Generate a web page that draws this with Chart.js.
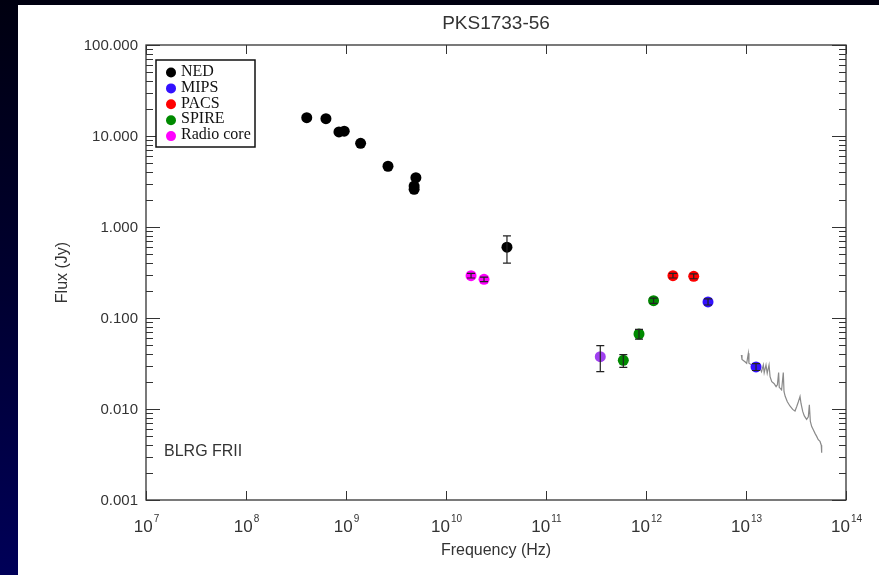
<!DOCTYPE html>
<html lang="en">
<head>
<meta charset="UTF-8" />
<title>PKS1733-56</title>
<script src="https://cdn.jsdelivr.net/npm/chart.js@4.4.1/dist/chart.umd.min.js"></script>
<style>
  html, body { margin: 0; padding: 0; }
  body {
    width: 879px; height: 575px; overflow: hidden;
    background: linear-gradient(180deg, #000010 0%, #000030 50%, #000058 100%);
  }
  #wrap { position: absolute; left: 18px; top: 5px; width: 861px; height: 570px; background: #fff; }
</style>
</head>
<body>
<div id="wrap"><canvas id="canvas" width="861" height="570"></canvas></div>
<script>
// NED photometry (Hz, Jy)
const nedFreq = [4.05e8, 6.3e8, 8.5e8, 9.6e8, 1.4e9, 2.63e9, 5.0e9, 4.8e9, 4.8e9, 4.07e10];
const nedFlux = [15.9, 15.5, 11.1, 11.3, 8.3, 4.65, 3.48, 2.82, 2.6, 0.60];
const nedLo   = [null, null, null, null, null, null, null, null, null, 0.40];
const nedHi   = [null, null, null, null, null, null, null, null, null, 0.80];

const mipsFreq = [4.17e12, 1.26e13];
const mipsFlux = [0.150, 0.029];
const mipsLo   = [0.139, 0.0265];
const mipsHi   = [0.162, 0.0315];

const pacsFreq = [1.86e12, 3.0e12];
const pacsFlux = [0.292, 0.287];
const pacsLo   = [0.275, 0.270];
const pacsHi   = [0.310, 0.305];

const spireFreq = [5.93e11, 8.51e11, 1.19e12];
const spireFlux = [0.0343, 0.0667, 0.155];
const spireLo   = [0.0287, 0.0587, 0.145];
const spireHi   = [0.0395, 0.075, 0.165];

const coreFreq = [1.78e10, 2.4e10];
const coreFlux = [0.292, 0.266];
const coreLo   = [0.275, 0.251];
const coreHi   = [0.310, 0.282];

// extra point (overlapping MIPS / radio core colour)
const extraFreq = [3.49e11];
const extraFlux = [0.0376];
const extraLo   = [0.0257];
const extraHi   = [0.0497];

// IRS spectrum
const irsFreq = [8.98e12, 9.12e12, 9.77e12, 1.016e13, 1.055e13, 1.07e13, 1.14e13, 1.26e13, 1.38e13, 1.43e13,
  1.49e13, 1.52e13, 1.585e13, 1.63e13, 1.70e13, 1.74e13, 1.81e13, 1.905e13, 2.0e13, 2.06e13,
  2.12e13, 2.15e13, 2.27e13, 2.36e13, 2.40e13, 2.47e13, 2.59e13, 2.75e13, 2.93e13, 3.09e13,
  3.21e13, 3.34e13, 3.47e13, 3.55e13, 3.69e13, 3.83e13, 4.04e13, 4.20e13, 4.30e13, 4.40e13,
  4.54e13, 4.71e13, 4.90e13, 5.09e13, 5.28e13, 5.50e13, 5.66e13, 5.71e13];
const irsFlux = [0.0392, 0.0351, 0.0331, 0.0318, 0.0409, 0.0318, 0.0305, 0.0297, 0.0280, 0.0257,
  0.0305, 0.0251, 0.0305, 0.0247, 0.0305, 0.0227, 0.0200, 0.0191, 0.0176, 0.0184,
  0.0251, 0.0173, 0.0162, 0.0251, 0.0155, 0.0137, 0.0120, 0.0108, 0.0099, 0.0095,
  0.0106, 0.0120, 0.0137, 0.0115, 0.0094, 0.0084, 0.0077, 0.0082, 0.0111, 0.0073,
  0.0064, 0.0059, 0.0054, 0.0050, 0.0046, 0.0044, 0.0040, 0.0033];

const xTicks = [1e7, 1e8, 1e9, 1e10, 1e11, 1e12, 1e13, 1e14];
const xExps  = ['7', '8', '9', '10', '11', '12', '13', '14'];
const yTicks = [0.001, 0.01, 0.1, 1, 10, 100];
const yLabels = ['0.001', '0.010', '0.100', '1.000', '10.000', '100.000'];

const legendNames  = ['NED', 'MIPS', 'PACS', 'SPIRE', 'Radio core'];
const legendColors = ['#000000', '#3311ff', '#ff0000', '#008a00', '#ff00ff'];

function pts(xs, ys) {
  return xs.map(function (x, i) { return { x: x, y: ys[i] }; });
}
function dots(label, xs, ys, lo, hi, color) {
  return { label: label, data: pts(xs, ys), errLo: lo, errHi: hi,
    backgroundColor: color, borderWidth: 0, pointRadius: 5.5, pointHoverRadius: 5.5, order: 0 };
}

const sans = '"Liberation Sans", Arial, Helvetica, sans-serif';

const framePlugin = {
  id: 'frame',
  afterDatasetsDraw(chart) {
    const ctx = chart.ctx, a = chart.chartArea;
    const xs = chart.scales.x, ys = chart.scales.y;
    ctx.save();
    // error bars
    ctx.strokeStyle = '#222';
    ctx.lineWidth = 1.2;
    chart.data.datasets.forEach(function (ds) {
      if (!ds.errLo) return;
      ds.data.forEach(function (p, i) {
        if (ds.errLo[i] == null) return;
        const px = xs.getPixelForValue(p.x);
        const y1 = ys.getPixelForValue(ds.errLo[i]);
        const y2 = ys.getPixelForValue(ds.errHi[i]);
        ctx.beginPath();
        ctx.moveTo(px, y1); ctx.lineTo(px, y2);
        ctx.moveTo(px - 4, y1); ctx.lineTo(px + 4, y1);
        ctx.moveTo(px - 4, y2); ctx.lineTo(px + 4, y2);
        ctx.stroke();
      });
    });
    // box
    ctx.strokeStyle = '#333';
    ctx.lineWidth = 1.3;
    ctx.strokeRect(a.left, a.top, a.right - a.left, a.bottom - a.top);
    // y ticks both sides
    ctx.lineWidth = 1;
    ctx.beginPath();
    for (let e = -3; e <= 2; e++) {
      for (let m = 1; m <= 9; m++) {
        const v = m * Math.pow(10, e);
        if (v > 100.0001) break;
        const py = Math.round(ys.getPixelForValue(v)) + 0.5;
        const len = m === 1 ? 14 : 7;
        ctx.moveTo(a.left, py); ctx.lineTo(a.left + len, py);
        ctx.moveTo(a.right, py); ctx.lineTo(a.right - len, py);
      }
    }
    // x ticks top and bottom
    xTicks.forEach(function (v) {
      const px = Math.round(xs.getPixelForValue(v)) + 0.5;
      ctx.moveTo(px, a.bottom); ctx.lineTo(px, a.bottom - 9);
      ctx.moveTo(px, a.top); ctx.lineTo(px, a.top + 9);
    });
    ctx.stroke();

    // y tick labels
    ctx.fillStyle = '#333';
    ctx.font = '15px ' + sans;
    ctx.textAlign = 'right';
    ctx.textBaseline = 'middle';
    yTicks.forEach(function (v, i) {
      ctx.fillText(yLabels[i], a.left - 8, ys.getPixelForValue(v) + 1);
    });
    // x tick labels with superscript
    xTicks.forEach(function (v, i) {
      const px = xs.getPixelForValue(v);
      ctx.font = '17px ' + sans;
      const w1 = ctx.measureText('10').width;
      ctx.font = '10px ' + sans;
      const w2 = ctx.measureText(xExps[i]).width;
      const x0 = px - (w1 + w2) / 2;
      ctx.textAlign = 'left';
      ctx.textBaseline = 'alphabetic';
      ctx.font = '17px ' + sans;
      ctx.fillText('10', x0, a.bottom + 32);
      ctx.font = '10px ' + sans;
      ctx.fillText(xExps[i], x0 + w1 + 1, a.bottom + 22);
    });

    // titles
    ctx.textAlign = 'center';
    ctx.textBaseline = 'middle';
    ctx.font = '19px ' + sans;
    ctx.fillText('PKS1733-56', (a.left + a.right) / 2, 19);
    ctx.font = '16px ' + sans;
    ctx.fillText('Frequency (Hz)', (a.left + a.right) / 2, a.bottom + 51);
    ctx.save();
    ctx.translate(45, (a.top + a.bottom) / 2);
    ctx.rotate(-Math.PI / 2);
    ctx.fillText('Flux (Jy)', 0, 0);
    ctx.restore();
    ctx.textAlign = 'left';
    ctx.fillText('BLRG FRII', a.left + 18, a.bottom - 48);

    // legend box
    const lx = a.left + 10, ly = a.top + 15;
    ctx.fillStyle = '#fff';
    ctx.fillRect(lx, ly, 99, 87);
    ctx.strokeStyle = '#111';
    ctx.lineWidth = 1.5;
    ctx.strokeRect(lx, ly, 99, 87);
    ctx.font = '16px "Liberation Serif", "Times New Roman", serif';
    legendNames.forEach(function (name, i) {
      const yy = ly + 11.5 + i * 15.9;
      ctx.fillStyle = legendColors[i];
      ctx.beginPath();
      ctx.arc(lx + 15, yy + 1, 5, 0, Math.PI * 2);
      ctx.fill();
      ctx.fillStyle = '#111';
      ctx.fillText(name, lx + 25, yy);
    });
    ctx.restore();
  }
};

new Chart(document.getElementById('canvas'), {
  type: 'scatter',
  data: {
    datasets: [
      dots('NED', nedFreq, nedFlux, nedLo, nedHi, legendColors[0]),
      dots('MIPS', mipsFreq, mipsFlux, mipsLo, mipsHi, legendColors[1]),
      dots('PACS', pacsFreq, pacsFlux, pacsLo, pacsHi, legendColors[2]),
      dots('SPIRE', spireFreq, spireFlux, spireLo, spireHi, legendColors[3]),
      dots('Radio core', coreFreq, coreFlux, coreLo, coreHi, legendColors[4]),
      dots('extra', extraFreq, extraFlux, extraLo, extraHi, '#a040f0'),
      {
        label: 'IRS', type: 'line', data: pts(irsFreq, irsFlux),
        borderColor: '#8a8a8a', borderWidth: 1.2, pointRadius: 0, tension: 0,
        fill: false, order: 1
      }
    ]
  },
  options: {
    responsive: false,
    animation: false,
    events: [],
    layout: { padding: { left: 128, top: 40, right: 33, bottom: 75 } },
    plugins: { legend: { display: false }, tooltip: { enabled: false }, title: { display: false } },
    scales: {
      x: { type: 'logarithmic', min: 1e7, max: 1e14, display: false },
      y: { type: 'logarithmic', min: 0.001, max: 100, display: false }
    }
  },
  plugins: [framePlugin]
});
</script>
</body>
</html>
